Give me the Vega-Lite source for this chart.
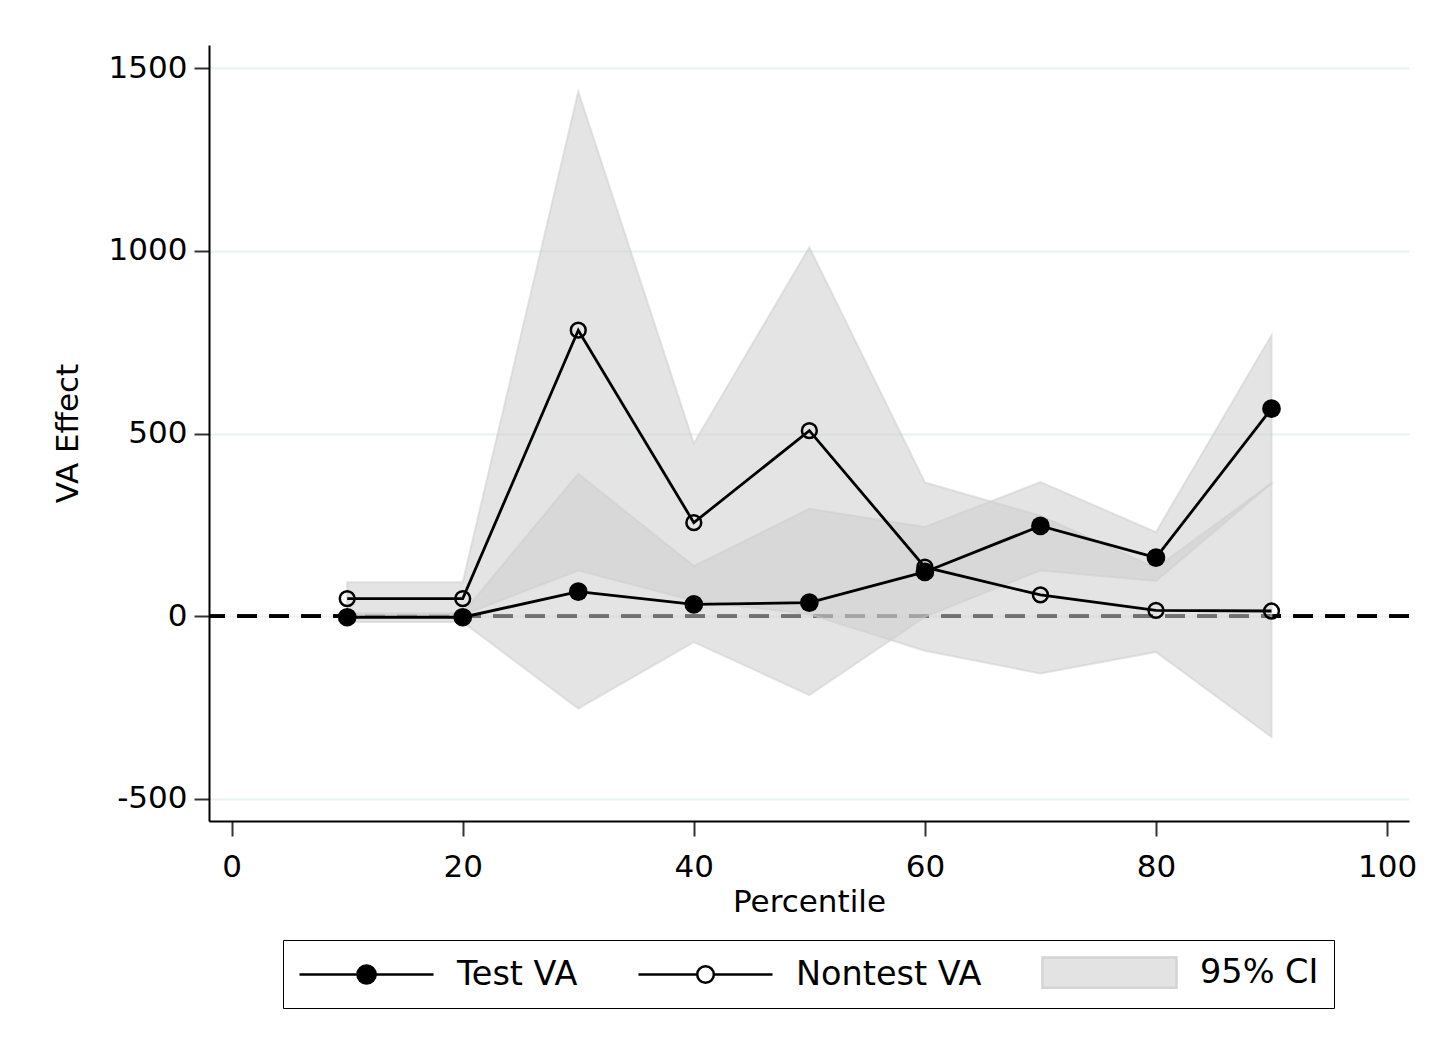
{
  "$schema": "https://vega.github.io/schema/vega-lite/v6.json",
  "width": 1200,
  "height": 776,
  "autosize": {"type": "none"},
  "padding": {"left": 209, "top": 45, "right": 44, "bottom": 229},
  "background": "white",
  "config": {
    "font": "DejaVu Sans",
    "view": {"stroke": null},
    "axis": {
      "labelFont": "DejaVu Sans",
      "titleFont": "DejaVu Sans",
      "labelFontSize": 31,
      "titleFontSize": 31,
      "labelColor": "#000000",
      "titleColor": "#000000",
      "titleFontWeight": "normal",
      "domainColor": "#000000",
      "domainWidth": 2,
      "tickColor": "#333333",
      "tickWidth": 2,
      "tickSize": 15
    }
  },
  "datasets": {
    "est": [
      {"pct": 10, "test": -3, "nontest": 48, "t_lo": -16, "t_hi": 8, "n_lo": 3, "n_hi": 93},
      {"pct": 20, "test": -3, "nontest": 48, "t_lo": -16, "t_hi": 8, "n_lo": 3, "n_hi": 93},
      {"pct": 30, "test": 67, "nontest": 783, "t_lo": -253, "t_hi": 390, "n_lo": 125, "n_hi": 1436},
      {"pct": 40, "test": 32, "nontest": 256, "t_lo": -71, "t_hi": 137, "n_lo": 42, "n_hi": 473},
      {"pct": 50, "test": 37, "nontest": 508, "t_lo": -216, "t_hi": 294, "n_lo": 5, "n_hi": 1010},
      {"pct": 60, "test": 121, "nontest": 134, "t_lo": -2, "t_hi": 244, "n_lo": -95, "n_hi": 366},
      {"pct": 70, "test": 247, "nontest": 58, "t_lo": 125, "t_hi": 367, "n_lo": -157, "n_hi": 275},
      {"pct": 80, "test": 160, "nontest": 16, "t_lo": 96, "t_hi": 230, "n_lo": -98, "n_hi": 132},
      {"pct": 90, "test": 568, "nontest": 14, "t_lo": 364, "t_hi": 769, "n_lo": -331, "n_hi": 364}
    ],
    "legend": [
      {"key": "Test VA"},
      {"key": "Nontest VA"},
      {"key": "95% CI"}
    ]
  },
  "layer": [
    {
      "data": {"name": "est"},
      "mark": {"type": "rule", "color": "#000000", "strokeWidth": 3, "strokeDash": [20, 12]},
      "encoding": {
        "y": {
          "datum": 0,
          "type": "quantitative",
          "scale": {"domain": [-561, 1564], "nice": false, "zero": false},
          "axis": {
            "title": "VA Effect",
            "values": [-500, 0, 500, 1000, 1500],
            "labelExpr": "'' + datum.value",
            "grid": true,
            "gridColor": "#e8f1f3",
            "gridWidth": 2,
            "labelPadding": 7,
            "titlePadding": 24
          }
        }
      }
    },
    {
      "data": {"name": "est"},
      "mark": {"type": "area", "fill": "#cecece", "fillOpacity": 0.55, "stroke": "#cecece", "strokeOpacity": 0.55, "strokeWidth": 2},
      "encoding": {
        "x": {
          "field": "pct",
          "type": "quantitative",
          "scale": {"domain": [-1.96, 101.9], "nice": false, "zero": false},
          "axis": {
            "title": "Percentile",
            "values": [0, 20, 40, 60, 80, 100],
            "grid": false,
            "labelPadding": 16,
            "titlePadding": 5
          }
        },
        "y": {"field": "n_lo", "type": "quantitative"},
        "y2": {"field": "n_hi"}
      }
    },
    {
      "data": {"name": "est"},
      "mark": {"type": "area", "fill": "#cecece", "fillOpacity": 0.55, "stroke": "#cecece", "strokeOpacity": 0.55, "strokeWidth": 2},
      "encoding": {
        "x": {"field": "pct", "type": "quantitative"},
        "y": {"field": "t_lo", "type": "quantitative"},
        "y2": {"field": "t_hi"}
      }
    },
    {
      "data": {"name": "est"},
      "mark": {"type": "line", "color": "#000000", "strokeWidth": 2.8},
      "encoding": {
        "x": {"field": "pct", "type": "quantitative"},
        "y": {"field": "nontest", "type": "quantitative"}
      }
    },
    {
      "data": {"name": "est"},
      "mark": {"type": "line", "color": "#000000", "strokeWidth": 2.8},
      "encoding": {
        "x": {"field": "pct", "type": "quantitative"},
        "y": {"field": "test", "type": "quantitative"}
      }
    },
    {
      "data": {"name": "est"},
      "mark": {"type": "point", "shape": "circle", "filled": false, "stroke": "#000000", "strokeWidth": 2.5, "size": 220, "opacity": 1},
      "encoding": {
        "x": {"field": "pct", "type": "quantitative"},
        "y": {"field": "nontest", "type": "quantitative"}
      }
    },
    {
      "data": {"name": "est"},
      "mark": {"type": "point", "shape": "circle", "filled": true, "fill": "#000000", "strokeWidth": 0, "size": 350, "opacity": 1},
      "encoding": {
        "x": {"field": "pct", "type": "quantitative"},
        "y": {"field": "test", "type": "quantitative"}
      }
    },
    {
      "data": {"name": "legend"},
      "mark": {"type": "point", "opacity": 0, "size": 1024, "strokeWidth": 2.5},
      "encoding": {
        "shape": {
          "field": "key",
          "type": "nominal",
          "scale": {
            "domain": ["Test VA", "Nontest VA", "95% CI"],
            "range": [
              "M-1,0H7.375M2.62,0A0.57,0.57,0,1,0,3.76,0A0.57,0.57,0,1,0,2.62,0Z",
              "M-1,0H2.67M3.705,0H7.375M2.67,0A0.52,0.52,0,1,0,3.71,0A0.52,0.52,0,1,0,2.67,0Z",
              "M-1,-0.95H7.375V0.95H-1Z"
            ]
          },
          "legend": {
            "title": null,
            "orient": "none",
            "legendX": 74,
            "legendY": 895,
            "direction": "horizontal",
            "columns": 3,
            "symbolSize": 1024,
            "symbolStrokeWidth": 2.5,
            "symbolOpacity": 1,
            "labelFont": "DejaVu Sans",
            "labelFontSize": 33.5,
            "labelColor": "#000000",
            "labelOffset": 124,
            "columnPadding": 55,
            "padding": 15,
            "strokeColor": "#000000",
            "labelLimit": 400
          }
        },
        "fill": {
          "field": "key",
          "type": "nominal",
          "scale": {"domain": ["Test VA", "Nontest VA", "95% CI"], "range": ["#000000", "#ffffff", "#e3e3e3"]}
        },
        "stroke": {
          "field": "key",
          "type": "nominal",
          "scale": {"domain": ["Test VA", "Nontest VA", "95% CI"], "range": ["#000000", "#000000", "#d4d4d4"]}
        }
      }
    }
  ]
}
